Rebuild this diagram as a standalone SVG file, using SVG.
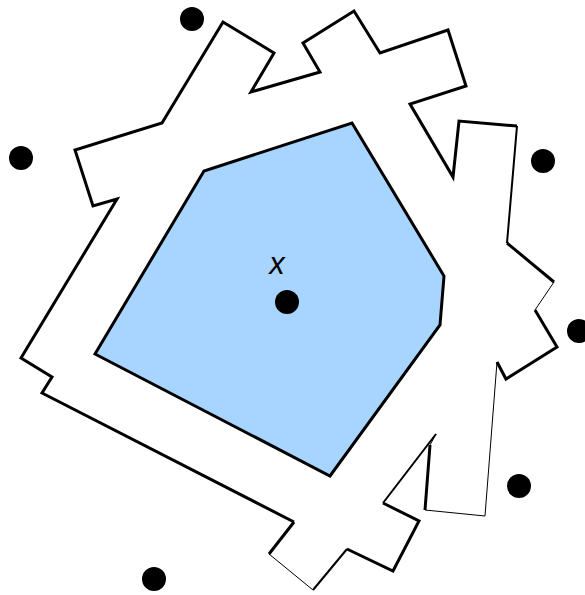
<svg xmlns="http://www.w3.org/2000/svg" width="585" height="595" viewBox="0 0 585 595">
<style>
.o{fill:none;stroke:#000;stroke-linejoin:miter;stroke-linecap:butt}
.k{stroke-width:3}
.m{stroke-width:2}
.t{stroke-width:1}
.d{fill:#000}
.lbl{font-family:"Liberation Sans",Arial,sans-serif;font-style:italic;font-size:31px;fill:#000}
</style>
<rect width="585" height="595" fill="#fff"/>
<g id="region">
<polygon fill="#fff" points="223,22 274,53 251,92 320,72 303,43 354,11 380,53 448,30 466,86 410,104 453,177 459,121 517,126 507,243 554,282 535,310 557,347 506,379 497,362 485,516 425,510 430,445 436,434 383,503 419,521 393,571 347,549 313,590 269,554 294,522 42,393 52,377 21,358 117,199 93,206 75,150 162,123"/>
<polyline class="o k" points="294,522 42,393 52,377 21,358 117,199 93,206 75,150 162,123 223,22 274,53 251,92 320,72 303,43 354,11 380,53 448,30 466,86 410,104 453,177 459,121 517,126"/>
<polyline class="o m" points="517,126 507,243"/>
<polyline class="o k" points="507,243 554,282"/>
<polyline class="o t" points="554,282 535,310"/>
<polyline class="o k" points="535,310 557,347 506,379 497,362"/>
<polyline class="o t" points="497,362 485,516 425,510"/>
<polyline class="o k" points="425,510 430,445"/>
<polyline class="o t" points="430,445 436,434"/>
<polyline class="o m" points="436,434 383,503"/>
<polyline class="o k" points="383,503 419,521 393,571 347,549"/>
<polyline class="o m" points="347,549 313,590"/>
<polyline class="o t" points="313,590 269,554"/>
<polyline class="o k" points="269,554 294,522"/>
</g>
<g id="polygon">
<polygon points="95,354 204,171 352,123 444,276 440,325 330,476" fill="#a8d5ff" stroke="#000" stroke-width="3" stroke-linejoin="miter"/>
</g>
<g id="points">
<circle class="d" cx="192" cy="19" r="12"/>
<circle class="d" cx="21" cy="158" r="12"/>
<circle class="d" cx="543" cy="161" r="12"/>
<circle class="d" cx="579" cy="331" r="12"/>
<circle class="d" cx="287" cy="302" r="12"/>
<circle class="d" cx="519" cy="486" r="12"/>
<circle class="d" cx="154" cy="579" r="12"/>
</g>
<g id="label">
<text class="lbl" x="277" y="274" text-anchor="middle">x</text>
</g>
</svg>
